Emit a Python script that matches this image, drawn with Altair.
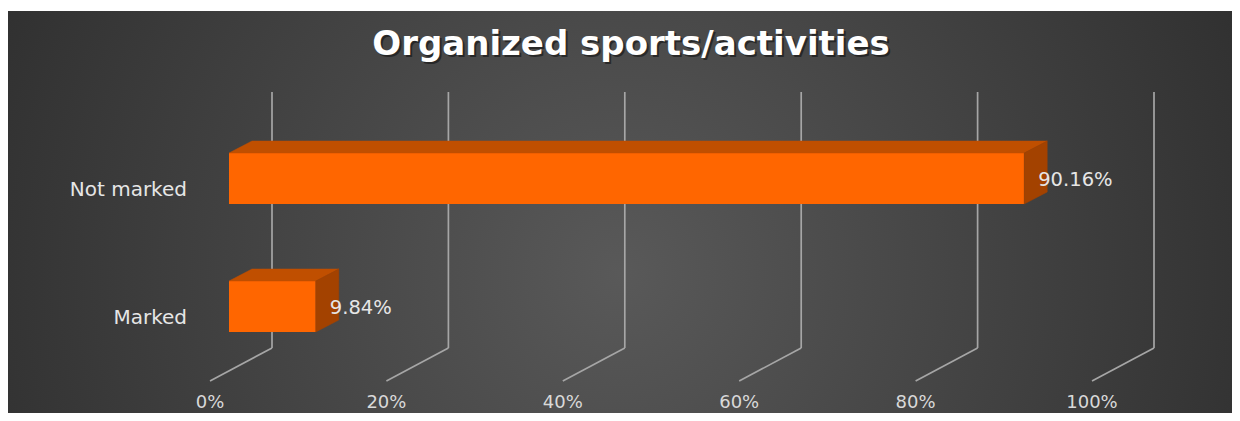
import altair as alt
import pandas as pd

# ---- data ----
categories = ["Not marked", "Marked"]
values = [0.9016, 0.0984]
value_labels = ["90.16%", "9.84%"]
ticks = [0.0, 0.2, 0.4, 0.6, 0.8, 1.0]
tick_labels = ["0%", "20%", "40%", "60%", "80%", "100%"]
title_text = "Organized sports/activities"

# ---- layout / style constants (pixels) ----
W, H = 1224, 405
X0, X1 = 221, 1103          # x-scale range (front plane of bars)
ROW0, ROW1 = 170.5, 298.5   # y-scale range (row 0, row 1 centres)
PPX = X1 - X0
PPR = ROW1 - ROW0
HALF = 25.5                 # half bar height
DX, DY = 23, 12             # bar depth offsets
BACK_DX, FRONT_DX = 43, -19 # grid back/front plane offsets
FONT = "DejaVu Sans"

rows = list(range(len(categories)))
bars = pd.DataFrame({"category": categories, "row": rows, "value": values, "label": value_labels})

top_rows, side_rows = [], []
for c, r, v in zip(categories, rows, values):
    top_rows.append({"category": c, "yy": r - HALF / PPR, "xa": 0.0, "xb": v})
    top_rows.append({"category": c, "yy": r - (HALF + DY) / PPR, "xa": DX / PPX, "xb": v + DX / PPX})
    side_rows.append({"category": c, "xx": v, "ya": r - HALF / PPR, "yb": r + HALF / PPR})
    side_rows.append({"category": c, "xx": v + DX / PPX, "ya": r - (HALF + DY) / PPR, "yb": r + (HALF - DY) / PPR})
top_df = pd.DataFrame(top_rows)
side_df = pd.DataFrame(side_rows)
grid_df = pd.DataFrame({"t": ticks, "lab": tick_labels})

xs = alt.Scale(domain=[0, 1], range=[X0, X1], nice=False, zero=False)
ys = alt.Scale(domain=[0, 1], range=[ROW0, ROW1], nice=False, zero=False)

bg = alt.Chart(pd.DataFrame({"a": [0]})).mark_rect(
    fill=alt.RadialGradient(
        gradient="radial", x1=0.5, y1=0.55, r1=0, x2=0.5, y2=0.55, r2=0.72,
        stops=[alt.GradientStop(offset=0, color="#595959"),
               alt.GradientStop(offset=1, color="#242424")]
    )
).encode(x=alt.value(0), x2=alt.value(W), y=alt.value(3), y2=alt.value(H))

grid_v = alt.Chart(grid_df).mark_rule(color="#a6a6a6", strokeWidth=1.7, xOffset=BACK_DX).encode(
    x=alt.X("t:Q", scale=xs, axis=None), y=alt.value(84), y2=alt.value(340))
grid_d = alt.Chart(grid_df).mark_rule(color="#a6a6a6", strokeWidth=1.7, xOffset=BACK_DX, x2Offset=FRONT_DX).encode(
    x=alt.X("t:Q", scale=xs, axis=None), x2="t:Q", y=alt.value(340), y2=alt.value(373))
tick_text = alt.Chart(grid_df).mark_text(font=FONT, fontSize=18, color="#d9d9d9", xOffset=FRONT_DX, baseline="middle").encode(
    x=alt.X("t:Q", scale=xs, axis=None), y=alt.value(394.5), text="lab:N")

front = alt.Chart(bars).mark_rect(color="#ff6600", yOffset=-HALF, y2Offset=HALF).encode(
    x=alt.X("value:Q", scale=xs, axis=None),
    x2=alt.datum(0),
    y=alt.Y("row:Q", scale=ys, axis=None), y2="row:Q")
top = alt.Chart(top_df).mark_area(color="#c04f00", orient="horizontal", stroke="#c04f00", strokeWidth=0.5).encode(
    y=alt.Y("yy:Q", scale=ys, axis=None), x=alt.X("xa:Q", scale=xs, axis=None), x2="xb:Q", detail="category:N")
side = alt.Chart(side_df).mark_area(color="#a34200", orient="vertical", stroke="#a34200", strokeWidth=0.5).encode(
    x=alt.X("xx:Q", scale=xs, axis=None), y=alt.Y("ya:Q", scale=ys, axis=None), y2="yb:Q", detail="category:N")

val_text = alt.Chart(bars).mark_text(font=FONT, fontSize=19.5, color="#e6e6e6", align="left", baseline="middle", dx=14, dy=1.5).encode(
    x=alt.X("value:Q", scale=xs, axis=None), y=alt.Y("row:Q", scale=ys, axis=None), text="label:N")
cat_text = alt.Chart(bars).mark_text(font=FONT, fontSize=20, color="#e6e6e6", align="right", baseline="middle", dy=11).encode(
    x=alt.value(179), y=alt.Y("row:Q", scale=ys, axis=None), text="category:N")

title_shadow = alt.Chart(pd.DataFrame({"t": [title_text]})).mark_text(
    font=FONT, fontSize=34, fontWeight="bold", color="#000000", opacity=0.45, baseline="middle", dx=2, dy=2).encode(
    x=alt.value(623), y=alt.value(37), text="t:N")
title = alt.Chart(pd.DataFrame({"t": [title_text]})).mark_text(
    font=FONT, fontSize=34, fontWeight="bold", color="#ffffff", baseline="middle").encode(
    x=alt.value(623), y=alt.value(37), text="t:N")

chart = alt.layer(bg, grid_v, grid_d, tick_text, front, top, side, val_text, cat_text, title_shadow, title).properties(
    width=W, height=H, padding=0, autosize="none", background="#ffffff"
).configure_view(strokeWidth=0)

chart.save("out.html", embed_options={"renderer": "svg", "actions": False})
